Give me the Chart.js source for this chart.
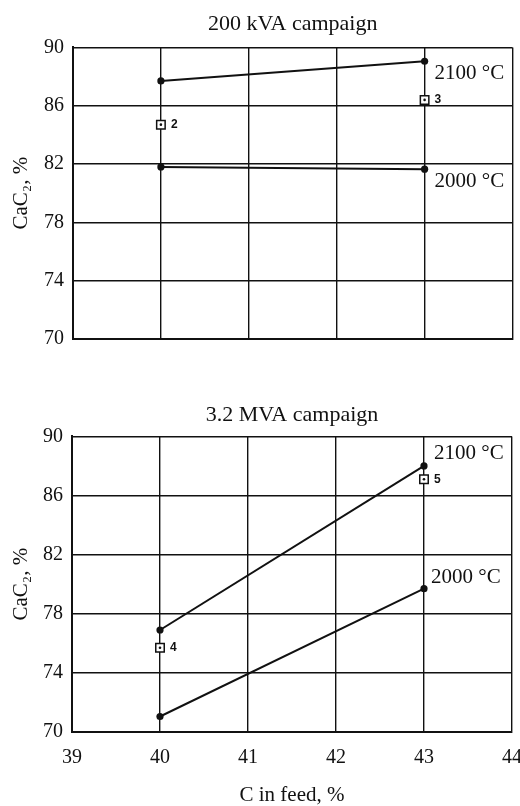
<!DOCTYPE html>
<html>
<head>
<meta charset="utf-8">
<script src="https://cdn.jsdelivr.net/npm/chart.js@4.4.0/dist/chart.umd.min.js"></script>
<style>
  body { margin: 0; background: #fff; }
  .box { position: absolute; left: 0; width: 520px; }
  #top { top: 0; height: 360px; }
  #bot { top: 370px; height: 436px; }
</style>
</head>
<body>
<div class="box" id="top"><canvas id="c1"></canvas></div>
<div class="box" id="bot"><canvas id="c2"></canvas></div>
<script>
// x = C in feed, %
const feedC = [40, 43];
const xTicks = [39, 40, 41, 42, 43, 44];
const yTicks = [70, 74, 78, 82, 86, 90];

// 200 kVA campaign
const kva2100 = [87.7, 89.05];
const kva2000 = [81.8, 81.65];
const kvaRuns = [84.7, 86.4];
const kvaRunNames = ['2', '3'];

// 3.2 MVA campaign
const mva2100 = [76.9, 88.0];
const mva2000 = [71.05, 79.7];
const mvaRuns = [75.7, 87.1];
const mvaRunNames = ['4', '5'];

const serif = '"Liberation Serif", "DejaVu Serif", serif';
const ink = '#111';

function pts(ys) {
  return feedC.map((x, i) => ({ x: x, y: ys[i] }));
}

// writes text next to a drawn point (dataset, index) with a pixel offset
const pointLabels = {
  id: 'pointLabels',
  afterDatasetsDraw(chart, args, opts) {
    const ctx = chart.ctx;
    ctx.save();
    ctx.fillStyle = ink;
    ctx.textBaseline = 'middle';
    ctx.textAlign = 'left';
    (opts.items || []).forEach(it => {
      const el = chart.getDatasetMeta(it.ds).data[it.i];
      ctx.font = it.font;
      ctx.fillText(it.text, el.x + it.dx, el.y + it.dy);
    });
    ctx.restore();
  }
};

function makeChart(id, o) {
  const lineDs = ys => ({
    data: pts(ys), showLine: true, borderColor: ink, borderWidth: 2,
    pointRadius: 3.6, pointBackgroundColor: ink, pointBorderWidth: 0,
    order: 2
  });
  const runFont = 'bold 12px "Liberation Sans", "DejaVu Sans", sans-serif';
  const tempFont = '21px ' + serif;
  return new Chart(document.getElementById(id), {
    type: 'scatter',
    data: {
      datasets: [
        lineDs(o.t2100),
        lineDs(o.t2000),
        { data: pts(o.runs), showLine: false, pointStyle: 'rect', pointRadius: 6,
          pointBackgroundColor: '#fff', pointBorderColor: ink, pointBorderWidth: 1.5, order: 1 },
        { data: pts(o.runs), showLine: false, pointRadius: 1.3,
          pointBackgroundColor: ink, pointBorderWidth: 0, order: 0 }
      ]
    },
    options: {
      responsive: true,
      maintainAspectRatio: false,
      animation: false,
      layout: { padding: o.pad },
      plugins: {
        legend: { display: false },
        tooltip: { enabled: false },
        title: {
          display: true, text: o.title, color: ink, fullSize: false,
          font: { family: serif, size: 22, weight: 'normal' },
          padding: o.titlePad
        },
        pointLabels: {
          items: [
            { ds: 0, i: 1, text: '2100 °C', dx: 10, dy: o.tempDy[0], font: tempFont },
            { ds: 1, i: 1, text: '2000 °C', dx: o.tempDx2000, dy: o.tempDy[1], font: tempFont },
            { ds: 2, i: 0, text: o.runNames[0], dx: 10, dy: 0, font: runFont },
            { ds: 2, i: 1, text: o.runNames[1], dx: 10, dy: 0, font: runFont }
          ]
        }
      },
      scales: {
        x: {
          type: 'linear', min: 39, max: 44,
          afterBuildTicks: s => { s.ticks = xTicks.map(v => ({ value: v })); },
          afterFit: s => {
            if (o.xHeight) s.height = o.xHeight;
            s.paddingRight = 0;
            s.paddingLeft = 0;
          },
          ticks: { display: o.showX, color: ink, padding: 14, font: { family: serif, size: 20 } },
          grid: { color: ink, lineWidth: 1.4, drawTicks: false },
          border: { color: ink, width: 2 },
          title: {
            display: o.showX, text: 'C in feed, %', color: ink,
            font: { family: serif, size: 21, lineHeight: 1 }, padding: 0
          }
        },
        y: {
          type: 'linear', min: 70, max: 90,
          afterBuildTicks: s => { s.ticks = yTicks.map(v => ({ value: v })); },
          afterFit: s => { s.width = o.yWidth; },
          ticks: { color: ink, padding: 9, font: { family: serif, size: 20 } },
          grid: { color: ink, lineWidth: 1.4, drawTicks: false },
          border: { color: ink, width: 2 },
          title: {
            display: true, text: 'CaC₂, %', color: ink,
            font: { family: serif, size: 21 }, padding: { top: 9, bottom: 0 }
          }
        }
      }
    },
    plugins: [pointLabels]
  });
}

makeChart('c1', {
  title: '200 kVA campaign',
  t2100: kva2100, t2000: kva2000, runs: kvaRuns, runNames: kvaRunNames,
  pad: { top: 11, right: 2, bottom: 18, left: 0 },
  titlePad: { top: 0, bottom: 10 },
  tempDy: [12, 12], tempDx2000: 10,
  showX: false, xHeight: 0, yWidth: 73
});

makeChart('c2', {
  title: '3.2 MVA campaign',
  t2100: mva2100, t2000: mva2000, runs: mvaRuns, runNames: mvaRunNames,
  pad: { top: 32, right: 8, bottom: 0, left: 0 },
  titlePad: { top: 0, bottom: 8 },
  tempDy: [-12, -11], tempDx2000: 7,
  showX: true, xHeight: 74, yWidth: 72
});
</script>
</body>
</html>
